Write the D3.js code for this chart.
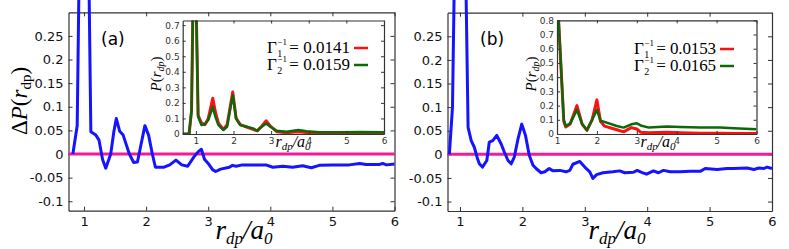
<!DOCTYPE html>
<html>
<head>
<meta charset="utf-8">
<script src="https://cdn.jsdelivr.net/npm/d3@7"></script>
<style>
  body { margin: 0; background: #fff; }
  svg { display: block; }
</style>
</head>
<body>
<svg id="chart" width="789" height="249"></svg>
<script>
// main panel ticks
const mainXTicks = [1, 2, 3, 4, 5, 6];
const mainYTicks = [-0.1, -0.05, 0, 0.05, 0.1, 0.15, 0.2, 0.25];
const insetXTicks = [1, 2, 3, 4, 5, 6];
const insetYTicksA = [0, 0.1, 0.2, 0.3, 0.4, 0.5, 0.6, 0.7];
const insetYTicksB = [0, 0.1, 0.2, 0.3, 0.4, 0.5, 0.6, 0.7, 0.8];

// (a) ΔP(r_dp)
const dpA_r = [0.82, 0.89, 1.0, 1.11, 1.19, 1.24, 1.30, 1.35, 1.43, 1.48, 1.52, 1.575, 1.63, 1.73, 1.80, 1.86, 1.91, 1.98, 2.04, 2.10, 2.15, 2.29, 2.38, 2.48, 2.575, 2.67, 2.77, 2.84, 2.89, 2.94, 3.0, 3.07, 3.12, 3.2, 3.34, 3.39, 3.45, 3.55, 3.72, 3.93, 4.04, 4.2, 4.36, 4.52, 4.66, 4.79, 5.0, 5.27, 5.44, 5.54, 5.76, 5.81, 5.87, 6.0];
const dpA_v = [0, 0.06, 1.2, 0.047, 0.04, 0.03, -0.012, -0.03, 0, 0.047, 0.075, 0.048, 0.04, 0, -0.018, -0.017, 0.015, 0.06, 0.04, 0, -0.028, -0.028, -0.023, -0.013, -0.023, -0.026, -0.006, 0.005, 0.01, -0.011, -0.02, -0.033, -0.037, -0.032, -0.028, -0.024, -0.026, -0.023, -0.023, -0.023, -0.028, -0.026, -0.028, -0.025, -0.029, -0.024, -0.023, -0.023, -0.02, -0.022, -0.022, -0.02, -0.023, -0.021];

// (b) ΔP(r_dp)
const dpB_r = [0.83, 0.88, 1.0, 1.13, 1.18, 1.23, 1.28, 1.31, 1.36, 1.43, 1.47, 1.525, 1.59, 1.66, 1.71, 1.77, 1.82, 1.87, 1.93, 1.99, 2.05, 2.11, 2.17, 2.22, 2.30, 2.36, 2.43, 2.49, 2.6, 2.7, 2.76, 2.81, 2.92, 3.0, 3.08, 3.13, 3.19, 3.29, 3.45, 3.56, 3.64, 3.78, 3.84, 3.91, 3.99, 4.1, 4.18, 4.26, 4.37, 4.53, 4.69, 4.85, 4.93, 5.12, 5.28, 5.38, 5.6, 5.71, 5.79, 5.87, 5.92, 6.0];
const dpB_v = [0, 0.1, 1.2, 0.057, 0.029, 0.015, -0.009, -0.02, -0.027, -0.013, 0.026, 0.029, 0.04, 0.022, 0.005, -0.013, -0.02, -0.006, 0.033, 0.064, 0.04, -0.002, -0.023, -0.03, -0.039, -0.037, -0.03, -0.035, -0.034, -0.037, -0.034, -0.021, -0.015, -0.027, -0.037, -0.051, -0.043, -0.039, -0.037, -0.035, -0.039, -0.038, -0.034, -0.038, -0.042, -0.035, -0.039, -0.034, -0.037, -0.037, -0.036, -0.036, -0.03, -0.032, -0.03, -0.03, -0.029, -0.032, -0.029, -0.03, -0.027, -0.03];

// inset (a) P(r_dp)
const pA_r = [0.65, 0.82, 0.885, 0.96, 1.06, 1.15, 1.24, 1.33, 1.45, 1.52, 1.6, 1.73, 1.83, 1.98, 2.07, 2.18, 2.35, 2.52, 2.63, 2.75, 2.87, 2.98, 3.15, 3.41, 3.72, 3.94, 4.3, 4.83, 5.36, 6.0];
const pA_red = [0, 0, 0.15, 1.5, 0.12, 0.07, 0.06, 0.1, 0.23, 0.14, 0.07, 0.03, 0.06, 0.27, 0.1, 0.06, 0.045, 0.03, 0.02, 0.05, 0.085, 0.05, 0.015, 0.008, 0.015, 0.01, 0.005, 0.006, 0.005, 0.004];
const pA_green = [0, 0, 0.15, 1.5, 0.11, 0.057, 0.064, 0.09, 0.174, 0.11, 0.057, 0.026, 0.047, 0.25, 0.1, 0.057, 0.047, 0.036, 0.021, 0.047, 0.068, 0.047, 0.021, 0.015, 0.026, 0.017, 0.011, 0.011, 0.013, 0.011];

// inset (b) P(r_dp)
const pB_r = [1.0, 1.04, 1.17, 1.22, 1.33, 1.5, 1.63, 1.75, 1.88, 2.0, 2.09, 2.19, 2.5, 2.67, 2.86, 3.0, 3.1, 3.3, 3.76, 4.09, 4.59, 5.09, 5.43, 6.0];
const pB_red = [1.1, 0.8, 0.09, 0.05, 0.07, 0.2, 0.07, 0.025, 0.1, 0.24, 0.09, 0.055, 0.03, 0.015, 0.045, 0.035, 0.012, 0.008, 0.012, 0.008, 0.005, 0.006, 0.004, 0.004];
const pB_green = [1.1, 0.8, 0.1, 0.056, 0.075, 0.17, 0.07, 0.028, 0.1, 0.17, 0.094, 0.085, 0.056, 0.045, 0.068, 0.075, 0.06, 0.045, 0.052, 0.049, 0.045, 0.045, 0.04, 0.033];

const legendA = ["0.0141", "0.0159"];
const legendB = ["0.0153", "0.0165"];

const svg = d3.select("#chart");
const sans = "'DejaVu Sans', sans-serif";
const serif = "'Liberation Serif', 'Times New Roman', serif";
const frameColor = "#333";

function toPts(xs, ys) {
    return xs.map((x, i) => [x, ys[i]]);
}

// axes with inward ticks on all sides
function drawFrame(g, x, y, xt, yt, opts) {
    const style = sel => {
        sel.selectAll(".domain").attr("stroke", frameColor).attr("stroke-width", opts.frameW);
        sel.selectAll(".tick line").attr("stroke", frameColor);
        sel.selectAll("text").attr("font-family", sans).attr("font-size", opts.fs).attr("fill", opts.labelColor);
    };
    g.append("g").attr("transform", `translate(0,${y.range()[0]})`)
        .call(d3.axisBottom(x).tickValues(xt).tickSize(-opts.tick).tickSizeOuter(0).tickPadding(opts.padX).tickFormat(d3.format("d")))
        .call(style);
    g.append("g").attr("transform", `translate(0,${y.range()[1]})`)
        .call(d3.axisTop(x).tickValues(xt).tickSize(-opts.tick).tickSizeOuter(0).tickFormat(""))
        .call(style);
    g.append("g").attr("transform", `translate(${x.range()[0]},0)`)
        .call(d3.axisLeft(y).tickValues(yt).tickSize(-opts.tick).tickSizeOuter(0).tickPadding(opts.padY).tickFormat(d => d === 0 ? "0" : String(d)))
        .call(style);
    g.append("g").attr("transform", `translate(${x.range()[1]},0)`)
        .call(d3.axisRight(y).tickValues(yt).tickSize(-opts.tick).tickSizeOuter(0).tickFormat(""))
        .call(style);
}

function drawPanel(cfg) {
    const g = svg.append("g");
    const x = d3.scaleLinear().domain(cfg.xDom).range([cfg.left, cfg.right]);
    const y = d3.scaleLinear().domain([-0.12, 0.3]).range([cfg.bottom, cfg.top]);

    drawFrame(g, x, y, mainXTicks, mainYTicks, { tick: 4, fs: 13, padX: 6, padY: 5, frameW: 1.2, labelColor: "#111" });

    g.append("line")
        .attr("x1", x(cfg.xDom[0])).attr("x2", x(6))
        .attr("y1", y(0)).attr("y2", y(0))
        .attr("stroke", "#f51a98").attr("stroke-width", 3);

    const line = d3.line().x(d => x(d[0])).y(d => y(d[1]));
    g.append("path")
        .datum(toPts(cfg.dpR, cfg.dpV))
        .attr("d", line)
        .attr("fill", "none").attr("stroke", "#1414ff").attr("stroke-width", 3).attr("stroke-linejoin", "round");

    g.append("text")
        .attr("x", cfg.tagX).attr("y", 45)
        .attr("font-family", sans).attr("font-size", 17)
        .text(cfg.tag);

    // axis labels
    const xl = g.append("text")
        .attr("x", cfg.xLabelX).attr("y", 239)
        .attr("text-anchor", "middle")
        .attr("font-family", serif).attr("font-size", 27).attr("font-style", "italic");
    xl.append("tspan").text("r");
    xl.append("tspan").attr("font-size", 17).attr("dy", 5).text("dp");
    xl.append("tspan").attr("dy", -5).text("/a");
    xl.append("tspan").attr("font-size", 17).attr("dy", 5).text("0");

    if (cfg.yLabel) {
        const yl = g.append("text")
            .attr("transform", "translate(27,101) rotate(-90)")
            .attr("text-anchor", "middle")
            .attr("font-family", serif).attr("font-size", 23);
        yl.append("tspan").text("Δ");
        yl.append("tspan").attr("font-style", "italic").text("P");
        yl.append("tspan").text("(");
        yl.append("tspan").attr("font-style", "italic").text("r");
        yl.append("tspan").attr("font-size", 15).attr("dy", 4).text("dp");
        yl.append("tspan").attr("dy", -4).text(")");
    }

    // inset
    const ins = cfg.inset;
    const ix = d3.scaleLinear().domain(ins.xDom).range([ins.left, ins.right]);
    const iy = d3.scaleLinear().domain(ins.yDom).range([ins.bottom, ins.top]);
    const ig = svg.append("g");
    ig.append("rect")
        .attr("x", ins.left).attr("y", ins.top)
        .attr("width", ins.right - ins.left).attr("height", ins.bottom - ins.top)
        .attr("fill", "#fff");

    const clipId = "clip-" + cfg.tag.replace(/\W/g, "");
    ig.append("clipPath").attr("id", clipId)
        .append("rect")
        .attr("x", ins.left).attr("y", ins.top)
        .attr("width", ins.right - ins.left).attr("height", ins.bottom - ins.top);

    const iline = d3.line().x(d => ix(d[0])).y(d => iy(d[1]));
    ig.append("path").datum(toPts(ins.r, ins.red)).attr("d", iline)
        .attr("clip-path", `url(#${clipId})`)
        .attr("fill", "none").attr("stroke", "#ff1010").attr("stroke-width", 3).attr("stroke-linejoin", "round");
    ig.append("path").datum(toPts(ins.r, ins.green)).attr("d", iline)
        .attr("clip-path", `url(#${clipId})`)
        .attr("fill", "none").attr("stroke", "#0a6a0a").attr("stroke-width", 2.5).attr("stroke-linejoin", "round");

    drawFrame(ig, ix, iy, insetXTicks, ins.yTicks, { tick: 3, fs: 9, padX: 4, padY: 3, frameW: 1.2, labelColor: "#333" });

    // inset legend
    ins.legend.forEach((val, i) => {
        const by = ins.legY + i * 17;
        const t = ig.append("text")
            .attr("x", ins.legX).attr("y", by)
            .attr("font-family", serif).attr("font-size", 17).text("Γ");
        const w = t.node().getComputedTextLength();
        ig.append("text").attr("x", ins.legX + w + 0.5).attr("y", by - 8)
            .attr("font-family", serif).attr("font-size", 9).text("−1");
        ig.append("text").attr("x", ins.legX + w + 0.5).attr("y", by + 4)
            .attr("font-family", serif).attr("font-size", 10).text(String(i + 1));
        const start = ins.legX + w + 12.5;
        ig.append("text").attr("x", start).attr("y", by)
            .attr("textLength", ins.legEnd - start)
            .attr("font-family", serif).attr("font-size", 17).text("= " + val);
        ig.append("line")
            .attr("x1", ins.legEnd + 4).attr("x2", ins.legEnd + 18)
            .attr("y1", by - 5).attr("y2", by - 5)
            .attr("stroke", i === 0 ? "#ff1010" : "#0a6a0a").attr("stroke-width", 2.5);
    });

    const ixl = ig.append("text")
        .attr("x", ins.xLabX).attr("y", 147)
        .attr("text-anchor", "middle")
        .attr("font-family", serif).attr("font-size", 16).attr("font-style", "italic");
    ixl.append("tspan").text("r");
    ixl.append("tspan").attr("font-size", 11).attr("dy", 3).text("dp");
    ixl.append("tspan").attr("dy", -3).text("/a");
    ixl.append("tspan").attr("font-size", 11).attr("dy", 3).text("0");

    const iyl = ig.append("text")
        .attr("transform", `translate(${ins.yLabX},74) rotate(-90)`)
        .attr("text-anchor", "middle")
        .attr("font-family", serif).attr("font-size", 15);
    iyl.append("tspan").attr("font-style", "italic").text("P");
    iyl.append("tspan").text("(");
    iyl.append("tspan").attr("font-style", "italic").text("r");
    iyl.append("tspan").attr("font-size", 10).attr("font-style", "italic").attr("dy", 3).text("dp");
    iyl.append("tspan").attr("dy", -3).text(")");
}

drawPanel({
    tag: "(a)", tagX: 101, yLabel: true,
    xDom: [0.75, 6], left: 68.5, right: 394.5, top: 12.3, bottom: 210.7,
    xLabelX: 244,
    dpR: dpA_r, dpV: dpA_v,
    inset: {
        xDom: [0.65, 6], yDom: [0, 0.73], left: 182.7, right: 384, top: 20.5, bottom: 134,
        yTicks: insetYTicksA, r: pA_r, red: pA_red, green: pA_green,
        legend: legendA, legX: 267, legEnd: 350, legY: 53,
        xLabX: 293, yLabX: 161
    }
});

drawPanel({
    tag: "(b)", tagX: 480, yLabel: false,
    xDom: [0.8, 6], left: 447.5, right: 772, top: 12.7, bottom: 211,
    xLabelX: 617,
    dpR: dpB_r, dpV: dpB_v,
    inset: {
        xDom: [1, 6], yDom: [0, 0.8], left: 557, right: 756.5, top: 20.3, bottom: 134,
        yTicks: insetYTicksB, r: pB_r, red: pB_red, green: pB_green,
        legend: legendB, legX: 634, legEnd: 716, legY: 54,
        xLabX: 658, yLabX: 536
    }
});
</script>
</body>
</html>
